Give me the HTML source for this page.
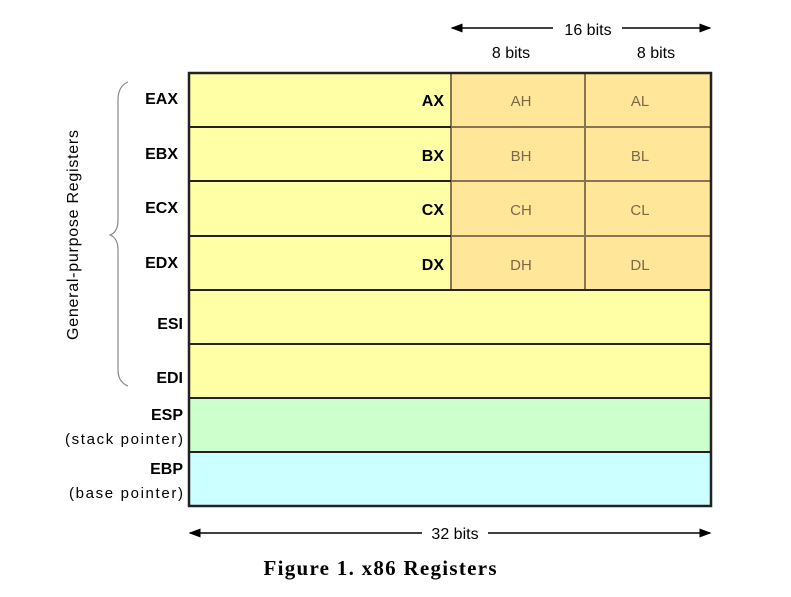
<!DOCTYPE html>
<html><head><style>body{margin:0;background:#fff}</style></head><body>
<svg width="791" height="592" xmlns="http://www.w3.org/2000/svg" font-family="Liberation Sans, DejaVu Sans, sans-serif">
<defs><marker id="a" markerWidth="8" markerHeight="6" refX="7" refY="3" orient="auto"><path d="M0,0L8,3L0,6z" fill="#000"/></marker>
<marker id="b" markerWidth="8" markerHeight="6" refX="1" refY="3" orient="auto"><path d="M8,0L0,3L8,6z" fill="#000"/></marker></defs>
<rect x="189" y="73" width="522" height="217" fill="#ffffa6"/>
<rect x="189" y="290" width="522" height="108" fill="#ffffa6"/>
<rect x="451" y="73" width="260" height="217" fill="#ffe699"/>
<rect x="189" y="398" width="522" height="54" fill="#ccffcc"/>
<rect x="189" y="452" width="522" height="54" fill="#ccffff"/>
<g stroke="#8a7350" stroke-width="2"><line x1="585" y1="73" x2="585" y2="290"/><line x1="451" y1="73" x2="451" y2="290"/>
<line x1="451" y1="127" x2="711" y2="127"/><line x1="451" y1="181" x2="711" y2="181"/><line x1="451" y1="236" x2="711" y2="236"/></g>
<g stroke="#222" stroke-width="2"><line x1="189" y1="127" x2="451" y2="127"/><line x1="189" y1="181" x2="451" y2="181"/><line x1="189" y1="236" x2="451" y2="236"/>
<line x1="189" y1="290" x2="711" y2="290"/><line x1="189" y1="344" x2="711" y2="344"/><line x1="189" y1="398" x2="711" y2="398"/><line x1="189" y1="452" x2="711" y2="452"/>
<rect x="189" y="73" width="522" height="433" fill="none" stroke-width="2.5"/></g>
<g font-weight="bold" font-size="16" text-anchor="end" fill="#000">
<text x="178" y="104">EAX</text><text x="178" y="159">EBX</text><text x="178" y="213">ECX</text><text x="178" y="268">EDX</text>
<text x="183" y="329">ESI</text><text x="183" y="383">EDI</text><text x="183" y="420">ESP</text><text x="183" y="474">EBP</text>
<text x="444" y="106">AX</text><text x="444" y="161">BX</text><text x="444" y="215">CX</text><text x="444" y="270">DX</text></g>
<g font-size="15" text-anchor="end"><text x="183" y="444" textLength="118">(stack pointer)</text><text x="183" y="498" textLength="114">(base pointer)</text></g>
<g font-size="15" text-anchor="middle" fill="#7a6a48">
<text x="521" y="106">AH</text><text x="640" y="106">AL</text><text x="521" y="161">BH</text><text x="640" y="161">BL</text>
<text x="521" y="215">CH</text><text x="640" y="215">CL</text><text x="521" y="270">DH</text><text x="640" y="270">DL</text></g>
<g font-size="16" text-anchor="middle"><text x="588" y="35">16 bits</text><text x="511" y="58">8 bits</text><text x="656" y="58">8 bits</text><text x="455" y="539">32 bits</text></g>
<g stroke="#000" stroke-width="1.5"><line x1="452" y1="28" x2="553" y2="28" marker-start="url(#b)"/><line x1="622" y1="28" x2="710" y2="28" marker-end="url(#a)"/>
<line x1="190" y1="533" x2="422" y2="533" marker-start="url(#b)"/><line x1="488" y1="533" x2="710" y2="533" marker-end="url(#a)"/></g>
<path d="M128,82 Q118,86 118,100 L118,220 Q118,232 110,235 Q118,238 118,250 L118,370 Q118,382 128,386" fill="none" stroke="#888" stroke-width="1.2"/>
<text transform="translate(78,235) rotate(-90)" font-size="16" text-anchor="middle" textLength="210">General-purpose Registers</text>
<text x="380" y="575" font-family="Liberation Serif, serif" font-weight="bold" font-size="21" text-anchor="middle" textLength="233">Figure 1. x86 Registers</text>
</svg>
</body></html>
